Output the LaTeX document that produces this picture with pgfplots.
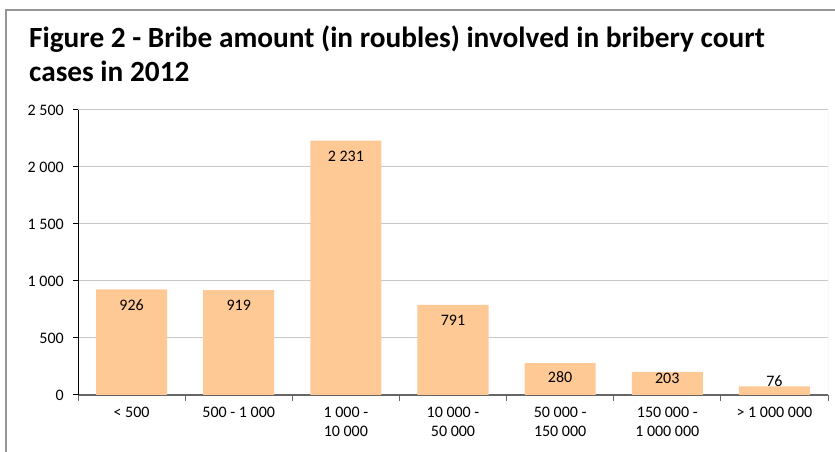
\documentclass[border=0pt]{standalone}
\usepackage{fontspec}
\setmainfont{Carlito}
\usepackage{pgfplots}
\usepackage{pgfplotstable}
\pgfplotsset{compat=1.18}
\definecolor{barc}{RGB}{255,201,150}
\definecolor{gridc}{RGB}{200,200,200}
\definecolor{framec}{RGB}{150,150,150}
\pgfplotstableread{
x y s
0 926 -15.5
1 919 -15.5
2 2231 -16
3 791 -15.5
4 280 -14
5 203 -7
6 76 5
}\bribes
\begin{document}
\begin{tikzpicture}[x=1pt,y=1pt]
\path[use as bounding box] (0,0) rectangle (835,452);
\draw[framec, line width=2pt] (6,0) -- (6,442) -- (835,442);
\node[anchor=base west, font=\bfseries\fontsize{29.3}{34}\selectfont, inner sep=0pt] at (29,404) {Figure 2 - Bribe amount (in roubles) involved in bribery court};
\node[anchor=base west, font=\bfseries\fontsize{29.3}{34}\selectfont, inner sep=0pt] at (29,370) {cases in 2012};
\begin{axis}[
  at={(78pt,57pt)}, anchor=south west,
  scale only axis, width=750pt, height=285pt,
  xmin=-0.5, xmax=6.5, ymin=0, ymax=2500,
  ytick={0,500,...,2500},
  ymajorgrids, grid style={gridc, line width=1pt},
  axis x line*=bottom, axis y line*=left,
  x axis line style={draw=black!60, line width=1.5pt},
  y axis line style={draw=black, line width=1pt},
  tick align=outside,
  major tick length=5pt, minor tick length=6pt,
  xtick={0,...,6},
  xticklabels={{< 500},{500 - 1 000},{1 000 -\\10 000},{10 000 -\\50 000},{50 000 -\\150 000},{150 000 -\\1 000 000},{> 1 000 000}},
  major x tick style={draw=none},
  minor xtick={-0.5,0.5,...,6.5},
  minor x tick style={draw=black!60, line width=1pt},
  y tick style={draw=black, line width=1pt},
  xticklabel style={font=\fontsize{16}{19}\selectfont, align=center, anchor=north, inner sep=0pt, yshift=-7pt},
  yticklabel style={font=\fontsize{16}{19}\selectfont, anchor=east, inner sep=0pt, xshift=-9pt},
  /pgf/number format/1000 sep={\ },
  /pgf/number format/assume math mode=true,
]
\addplot[ybar, bar width=0.663, fill=barc, draw=none,
  nodes near coords,
  visualization depends on={\thisrow{s} \as \lshift},
  every node near coord/.append style={anchor=center, yshift=\lshift pt, font=\fontsize{16}{19}\selectfont, text=black}]
  table[x=x, y=y] {\bribes};
\draw[gridc, line width=1pt] (rel axis cs:1,0) -- (rel axis cs:1,1);
\end{axis}
\end{tikzpicture}
\end{document}
